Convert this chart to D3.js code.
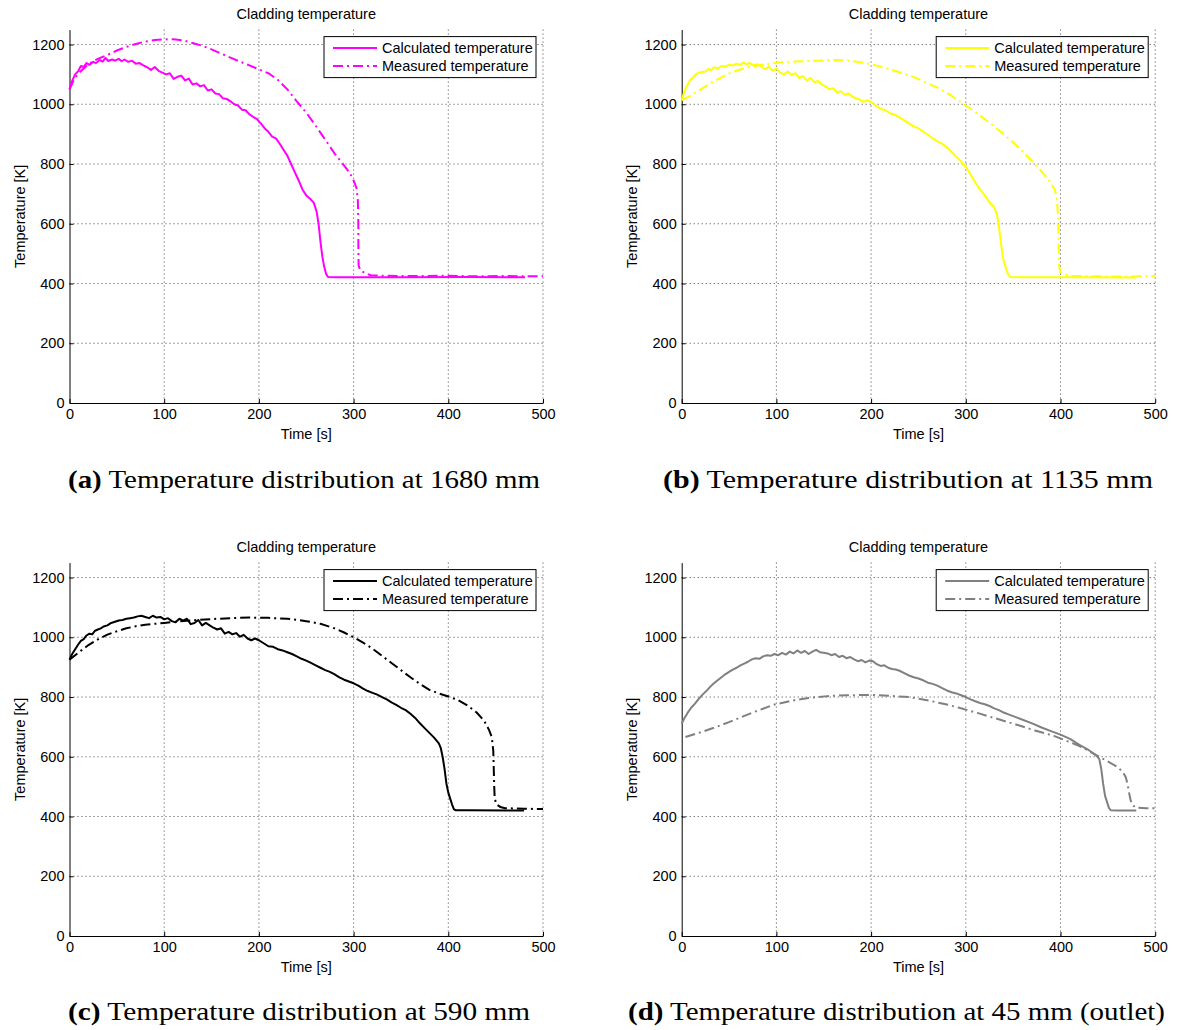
<!DOCTYPE html>
<html>
<head>
<meta charset="utf-8">
<script src="https://cdn.jsdelivr.net/npm/d3@7"></script>
<style>
  body { margin: 0; background: #fff; }
  svg { display: block; }
  .tick text { font-family: "Liberation Sans", Arial, sans-serif; font-size: 14.5px; fill: #000; }
  .axis path, .axis line { stroke: #000; stroke-width: 1; }
  .grid line { stroke: #444; stroke-width: 1; stroke-dasharray: 1,3; }
  .lbl { font-family: "Liberation Sans", Arial, sans-serif; font-size: 14.5px; fill: #000; }
  .cap { font-family: "Liberation Serif", "Times New Roman", serif; font-size: 25px; fill: #000; }
</style>
</head>
<body>
<svg id="fig"></svg>
<script>
// axis ticks
const xTicks = [0, 100, 200, 300, 400, 500];
const yTicks = [0, 200, 400, 600, 800, 1000, 1200];
const seriesNames = ['Calculated temperature', 'Measured temperature'];

// (a) 1680 mm  -- [time s, temperature K]
const calcA = [[0,1050],[3,1080],[6,1100],[9,1110],[12,1128],[15,1125],[18,1138],[21,1132],[25,1142],[28,1138],[32,1148],[35,1143],[38,1155],[41,1145],[45,1150],[48,1146],[52,1152],[55,1144],[58,1150],[62,1142],[66,1146],[70,1136],[74,1138],[78,1130],[82,1124],[86,1115],[90,1125],[94,1112],[98,1106],[102,1100],[106,1104],[110,1085],[114,1092],[118,1096],[122,1080],[126,1086],[130,1066],[134,1070],[138,1060],[142,1064],[146,1046],[150,1050],[154,1036],[158,1034],[162,1020],[166,1018],[170,1010],[174,1000],[178,996],[182,982],[186,980],[190,966],[194,958],[198,950],[202,936],[206,920],[210,908],[214,892],[218,886],[222,868],[226,848],[230,828],[234,800],[238,772],[242,745],[246,715],[250,695],[254,684],[258,670],[261,640],[263,600],[265,540],[267,490],[269,455],[271,432],[273,422],[280,421],[350,421],[420,422],[481,421]];
const measA = [[0,1050],[5,1085],[10,1105],[20,1135],[30,1152],[40,1165],[50,1180],[60,1192],[70,1202],[80,1210],[90,1215],[100,1217],[110,1218],[120,1214],[130,1205],[140,1196],[150,1184],[160,1170],[170,1156],[180,1143],[190,1130],[200,1117],[210,1104],[220,1082],[230,1050],[240,1010],[250,972],[260,928],[270,882],[280,835],[290,795],[296,770],[300,745],[303,720],[304.5,680],[305,600],[305,520],[305.3,460],[307,445],[312,435],[318,428],[330,426],[360,425],[400,426],[430,424],[460,425],[500,424]];

// (b) 1135 mm
const calcB = [[0,1014],[3,1045],[6,1065],[9,1081],[12,1090],[15,1100],[18,1106],[21,1108],[25,1110],[28,1118],[31,1114],[34,1124],[38,1120],[42,1128],[46,1126],[50,1132],[54,1130],[58,1136],[62,1132],[65,1140],[68,1134],[72,1138],[76,1130],[80,1134],[84,1126],[88,1118],[92,1126],[96,1112],[100,1120],[104,1106],[108,1100],[112,1110],[116,1098],[120,1104],[124,1088],[128,1094],[132,1080],[136,1088],[140,1074],[144,1078],[148,1066],[152,1060],[156,1050],[160,1054],[164,1040],[168,1044],[172,1032],[176,1036],[180,1026],[184,1020],[188,1016],[192,1008],[196,1014],[200,1008],[205,996],[210,985],[215,980],[220,970],[225,965],[230,956],[235,946],[240,936],[245,926],[250,920],[255,908],[260,898],[265,886],[270,876],[275,868],[280,856],[285,840],[290,824],[295,808],[300,790],[305,765],[310,738],[315,715],[320,695],[325,672],[330,655],[333,630],[335,590],[337,540],[339,490],[341,465],[343,445],[345,428],[347,422],[360,421],[420,421],[479,420]];
const measB = [[0,1014],[10,1030],[20,1050],[30,1070],[40,1087],[50,1103],[60,1115],[70,1124],[80,1130],[90,1135],[100,1139],[120,1143],[140,1146],[160,1148],[175,1147],[190,1140],[200,1134],[210,1126],[220,1117],[230,1107],[240,1097],[250,1085],[260,1070],[270,1056],[280,1038],[290,1018],[300,996],[310,974],[320,950],[330,926],[340,900],[350,872],[360,842],[370,810],[380,775],[388,745],[394,714],[396,690],[397.5,620],[398,540],[398.5,460],[400,438],[405,430],[412,426],[440,424],[470,423],[500,425]];

// (c) 590 mm
const calcC = [[0,925],[3,945],[6,960],[9,975],[12,988],[15,994],[18,1006],[21,1012],[24,1010],[27,1022],[30,1026],[33,1030],[36,1036],[40,1040],[44,1048],[48,1052],[52,1056],[56,1058],[60,1062],[64,1064],[68,1066],[72,1070],[76,1072],[80,1068],[84,1064],[88,1072],[92,1066],[96,1068],[100,1060],[104,1064],[108,1054],[112,1050],[116,1062],[120,1056],[124,1062],[128,1044],[132,1048],[136,1058],[140,1040],[144,1048],[148,1040],[152,1032],[156,1026],[160,1030],[164,1012],[168,1018],[172,1010],[176,1014],[180,1002],[184,1008],[188,996],[192,990],[196,996],[200,990],[205,980],[210,970],[215,968],[220,960],[225,956],[230,950],[235,944],[240,936],[245,928],[250,922],[255,914],[260,906],[265,898],[270,890],[275,884],[280,876],[285,866],[290,858],[295,852],[300,846],[305,838],[310,828],[315,820],[320,814],[325,808],[330,800],[335,792],[340,782],[345,774],[350,764],[355,756],[360,744],[365,730],[370,712],[375,696],[380,680],[385,664],[390,645],[392,630],[394,600],[396,560],[398,510],[400,480],[402,460],[404,440],[406,424],[408,421],[420,421],[480,420]];
const measC = [[0,925],[10,950],[20,974],[30,993],[40,1009],[50,1020],[60,1030],[70,1037],[80,1042],[90,1045],[100,1048],[115,1053],[130,1057],[150,1061],[170,1064],[190,1066],[210,1065],[230,1062],[250,1054],[265,1045],[280,1030],[290,1016],[300,1000],[310,982],[320,962],[330,938],[340,914],[350,890],[360,866],[370,844],[380,824],[390,812],[400,802],[410,790],[420,772],[430,748],[438,720],[443,690],[446,665],[447.5,620],[448,560],[448.5,500],[449,460],[451,440],[455,432],[460,428],[480,426],[500,425]];

// (d) 45 mm (outlet)
const calcD = [[0,711],[3,730],[6,746],[10,764],[14,778],[18,794],[22,808],[26,820],[30,834],[34,846],[38,856],[42,866],[46,876],[50,884],[54,892],[58,898],[62,906],[66,912],[70,918],[74,926],[78,930],[82,928],[86,936],[90,940],[94,938],[98,944],[102,940],[106,948],[110,942],[114,952],[118,946],[122,956],[126,948],[130,954],[134,944],[138,952],[142,958],[146,950],[150,948],[154,946],[158,940],[162,944],[166,934],[170,938],[174,930],[178,934],[182,926],[186,920],[190,924],[194,916],[198,922],[202,920],[206,910],[210,904],[214,906],[218,898],[222,894],[226,892],[230,888],[235,880],[240,872],[245,866],[250,862],[255,856],[260,848],[265,844],[270,838],[275,830],[280,822],[285,816],[290,812],[295,806],[300,800],[305,792],[310,786],[315,780],[320,776],[325,770],[330,762],[335,756],[340,748],[345,742],[350,736],[360,724],[370,712],[380,698],[390,686],[400,674],[410,660],[420,640],[430,622],[438,604],[441,592],[443,560],[445,510],[447,470],[449,450],[451,430],[453,421],[460,420],[480,420]];
const measD = [[4,666],[20,682],[34,697],[50,716],[74,747],[98,775],[120,790],[134,797],[154,803],[174,806],[200,807],[220,804],[240,800],[261,788],[280,775],[293,764],[313,746],[333,727],[353,708],[373,688],[393,670],[405,655],[420,636],[433,614],[449,586],[461,564],[466,548],[469,531],[471,505],[472,486],[474,455],[476,440],[479,430],[490,428],[500,428]];

const panels = [
  {calc: calcA, meas: measA, color: '#ff00ff', left: 69.5, top: 29.6, tag: '(a)', text: ' Temperature distribution at 1680 mm', capX: 68, capY: 488, capW: 472},
  {calc: calcB, meas: measB, color: '#ffff00', left: 681.7, top: 29.6, tag: '(b)', text: ' Temperature distribution at 1135 mm', capX: 663, capY: 488, capW: 490},
  {calc: calcC, meas: measC, color: '#000000', left: 69.5, top: 562.6, tag: '(c)', text: ' Temperature distribution at 590 mm', capX: 68, capY: 1020, capW: 462},
  {calc: calcD, meas: measD, color: '#808080', left: 681.7, top: 562.6, tag: '(d)', text: ' Temperature distribution at 45 mm (outlet)', capX: 628, capY: 1020, capW: 537}
];

const W = 1193, H = 1030;
const plotW = 473.5, plotH = 373.4;

const svg = d3.select('#fig').attr('width', W).attr('height', H);

const x = d3.scaleLinear().domain([0, 500]).range([0, plotW]);
const y = d3.scaleLinear().domain([0, 1250]).range([plotH, 0]);

const line = d3.line().x(d => x(d[0])).y(d => y(d[1]));

panels.forEach(p => {
  const g = svg.append('g').attr('transform', `translate(${p.left},${p.top})`);

  // dotted grid
  const grid = g.append('g').attr('class', 'grid');
  grid.selectAll('.gx').data(xTicks.slice(1)).join('line')
    .attr('x1', d => x(d)).attr('x2', d => x(d))
    .attr('y1', 0).attr('y2', plotH);
  grid.selectAll('.gy').data(yTicks.slice(1)).join('line')
    .attr('x1', 0).attr('x2', plotW)
    .attr('y1', d => y(d)).attr('y2', d => y(d));

  // axes, ticks pointing inwards
  g.append('g').attr('class', 'axis')
    .attr('transform', `translate(0,${plotH})`)
    .call(d3.axisBottom(x).tickValues(xTicks).tickFormat(d3.format('d'))
      .tickSize(-4).tickSizeOuter(0).tickPadding(6));
  g.append('g').attr('class', 'axis')
    .call(d3.axisLeft(y).tickValues(yTicks).tickFormat(d3.format('d'))
      .tickSize(-4).tickSizeOuter(0).tickPadding(5));

  // curves
  g.append('path').datum(p.meas)
    .attr('d', line).attr('fill', 'none')
    .attr('stroke', p.color).attr('stroke-width', 2)
    .attr('stroke-dasharray', '10,4,2,4');
  g.append('path').datum(p.calc)
    .attr('d', line).attr('fill', 'none')
    .attr('stroke', p.color).attr('stroke-width', 2)
    .attr('stroke-linejoin', 'round');

  // title and axis labels
  g.append('text').attr('class', 'lbl')
    .attr('x', plotW / 2).attr('y', -11)
    .attr('text-anchor', 'middle').text('Cladding temperature');
  g.append('text').attr('class', 'lbl')
    .attr('x', plotW / 2).attr('y', plotH + 36)
    .attr('text-anchor', 'middle').text('Time [s]');
  g.append('text').attr('class', 'lbl')
    .attr('transform', `translate(-45,${plotH / 2}) rotate(-90)`)
    .attr('text-anchor', 'middle').text('Temperature [K]');

  // legend
  const lw = 212, lh = 41;
  const lg = g.append('g').attr('transform', `translate(${plotW - 7 - lw},7)`);
  lg.append('rect').attr('width', lw).attr('height', lh)
    .attr('fill', '#fff').attr('stroke', '#000').attr('stroke-width', 1);
  seriesNames.forEach((name, i) => {
    const ly = 11.5 + i * 18;
    lg.append('line')
      .attr('x1', 9).attr('x2', 53).attr('y1', ly).attr('y2', ly)
      .attr('stroke', p.color).attr('stroke-width', 2)
      .attr('stroke-dasharray', i === 1 ? '10,4,2,4' : null);
    lg.append('text').attr('class', 'lbl')
      .attr('x', 58).attr('y', ly + 5)
      .text(name);
  });

  // sub caption
  const cap = svg.append('text').attr('class', 'cap')
    .attr('x', p.capX).attr('y', p.capY)
    .attr('textLength', p.capW).attr('lengthAdjust', 'spacingAndGlyphs');
  cap.append('tspan').attr('font-weight', 'bold').text(p.tag);
  cap.append('tspan').text(p.text);
});
</script>
</body>
</html>
